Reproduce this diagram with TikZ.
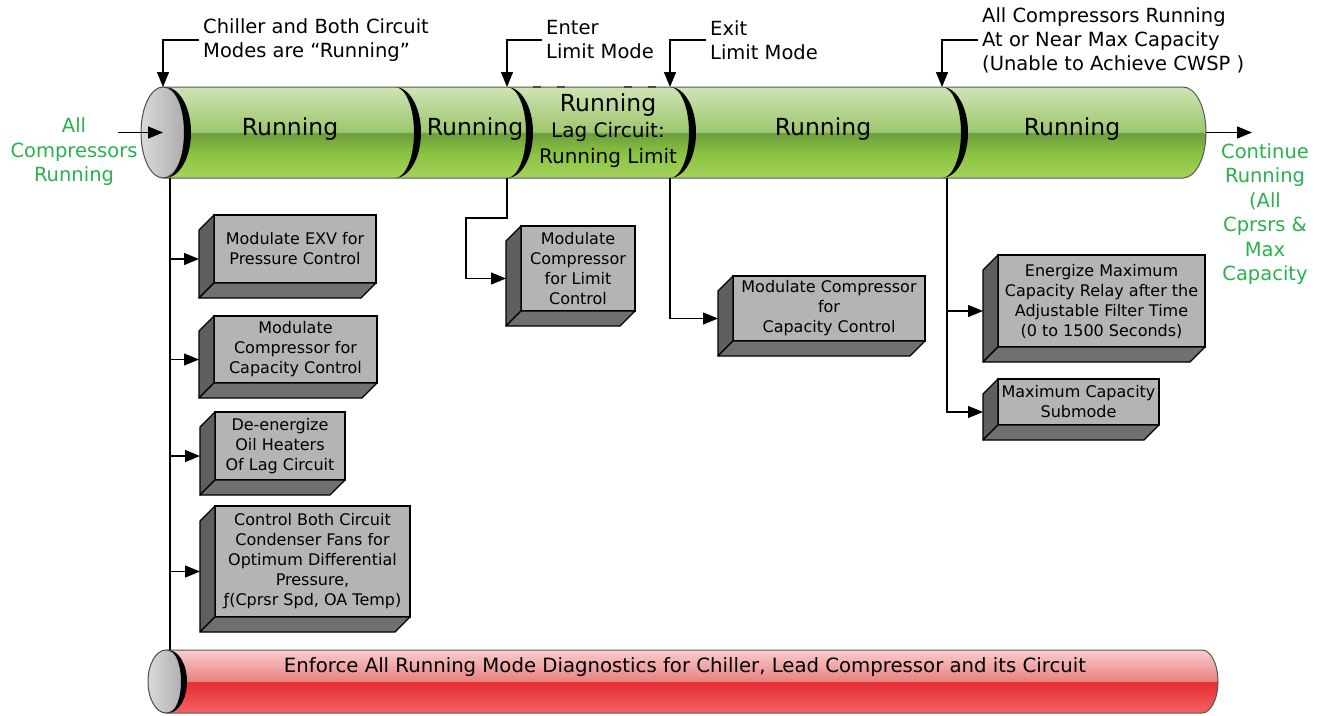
\documentclass[tikz,border=0pt]{standalone}
\usepackage{fontspec}
\setmainfont{DejaVu Sans}
\usetikzlibrary{arrows.meta,positioning,calc,shapes.geometric}

\definecolor{lblgreen}{RGB}{40,178,75}
\definecolor{gtop}{RGB}{206,228,180}
\definecolor{gupper}{RGB}{158,198,110}
\definecolor{glower}{RGB}{108,158,62}
\definecolor{gmid}{RGB}{140,196,64}
\definecolor{gbottom}{RGB}{166,210,95}
\definecolor{rtop}{RGB}{250,205,205}
\definecolor{rupper}{RGB}{232,130,130}
\definecolor{rlower}{RGB}{230,46,50}
\definecolor{rbottom}{RGB}{243,98,98}
\definecolor{boxfront}{RGB}{180,180,180}
\definecolor{boxside}{RGB}{95,95,95}
\definecolor{boxbottom}{RGB}{112,112,112}

\pgfdeclareverticalshading{greentube}{100bp}{color(0bp)=(gbottom); color(25bp)=(gbottom); color(38bp)=(gmid); color(49.6bp)=(glower); color(50.4bp)=(gupper); color(75bp)=(gtop); color(100bp)=(gtop)}
\pgfdeclareverticalshading{redtube}{100bp}{color(0bp)=(rbottom); color(25bp)=(rbottom); color(49.6bp)=(rlower); color(50.4bp)=(rupper); color(75bp)=(rtop); color(100bp)=(rtop)}

\tikzset{
  arr/.style={-{Triangle[length=15pt,width=12pt]}, line width=1.3pt},
  callout/.style={anchor=west, align=left, inner sep=4pt, font=\fontsize{19.5}{24}\selectfont},
  greenlbl/.style={text=lblgreen, align=center, font=\fontsize{19.5}{24.5}\selectfont},
  tubetxt/.style={align=center, font=\fontsize{23.5}{26}\selectfont},
  slabbox/.style={draw=black, line width=1.2pt, fill=boxfront, align=center, inner sep=2pt, outer sep=0pt, font=\fontsize{16}{20}\selectfont},
  tubeline/.style={draw=black!65, line width=1pt},
  disc/.style={ellipse, draw=black!70, line width=1pt, inner sep=0pt, left color=black!15, right color=black!32}
}

\newcommand{\slab}[1]{%
  \filldraw[fill=boxside, line width=1.2pt, line join=round] (#1.north west) -- ++(-15,15) -- ($(#1.south west)+(-15,15)$) -- (#1.south west) -- cycle;
  \filldraw[fill=boxbottom, line width=1.2pt, line join=round] (#1.south west) -- ++(-15,15) -- ($(#1.south east)+(-15,15)$) -- (#1.south east) -- cycle;
  \coordinate (#1-w) at ($(#1.west)+(-15,10)$);
}

\begin{document}
\begin{tikzpicture}[x=1pt, y=-1pt]
  \useasboundingbox (0,0) rectangle (1324,715);

  % running tube
  \shadedraw[shading=greentube, tubeline] (163,87) -- (1183,87) arc[start angle=90, end angle=-90, x radius=23pt, y radius=45.5pt] -- (163,178) -- cycle;
  \draw[black!70, line width=2.5pt, dash pattern=on 8pt off 16pt] (533,87) -- (568,87) (624,87) -- (658,87);
  \node[disc, minimum width=44pt, minimum height=91pt] (topdisc) at (163,132.5) {};
  \foreach \sx in {165,395,507,670,942}
    \fill (\sx,87) arc[start angle=90, end angle=-90, x radius=26pt, y radius=45.5pt] arc[start angle=-90, end angle=90, x radius=19pt, y radius=45.5pt];

  \node[tubetxt] (run1) at (290,129) {Running};
  \node[tubetxt] (run2) at (475,129) {Running};
  \node[tubetxt] (run3) at (608,131) {Running\\{\fontsize{20}{25}\selectfont Lag Circuit:}\\{\fontsize{20}{25}\selectfont Running Limit}};
  \node[tubetxt] (run4) at (823,129) {Running};
  \node[tubetxt] (run5) at (1072,129) {Running};

  % diagnostics tube
  \shadedraw[shading=redtube, tubeline] (166,650) -- (1202,650) arc[start angle=90, end angle=-90, x radius=16pt, y radius=31.5pt] -- (166,713) -- cycle;
  \node[disc, minimum width=36pt, minimum height=63pt] (botdisc) at (166,681.5) {};
  \fill (168,650) arc[start angle=90, end angle=-90, x radius=19pt, y radius=31.5pt] arc[start angle=-90, end angle=90, x radius=13pt, y radius=31.5pt];
  \node[font=\fontsize{19.7}{22}\selectfont] (diag) at (685,667) {Enforce All Running Mode Diagnostics for Chiller, Lead Compressor and its Circuit};

  % labels
  \node[greenlbl] (inlbl) at (74,152) {All\\Compressors\\Running};
  \node[greenlbl] (outlbl) at (1265,214) {Continue\\Running\\(All\\Cprsrs \&\\Max\\Capacity};
  \node[callout] (runlbl) at (199,40) {Chiller and Both Circuit\\Modes are “Running”};
  \node[callout] (enterlbl) at (542,40) {Enter\\Limit Mode};
  \node[callout] (exitlbl) at (706,40) {Exit\\Limit Mode};
  \node[callout] (maxlbl) at (978,40) {All Compressors Running\\At or Near Max Capacity\\(Unable to Achieve CWSP )};

  \coordinate (s1top) at (163,87);
  \coordinate (s3top) at (507,87);
  \coordinate (s4top) at (670,87);
  \coordinate (s5top) at (942,87);
  \draw[arr] (runlbl.west) -| (s1top);
  \draw[arr] (enterlbl.west) -| (s3top);
  \draw[arr] (exitlbl.west) -| (s4top);
  \draw[arr] (maxlbl.west) -| (s5top);

  \coordinate (instart) at (118,132.5);
  \coordinate (tubeend) at (1206,132.5);
  \coordinate (outend) at (1252,132.5);
  \draw[arr] (instart) -- (topdisc.center);
  \draw[arr] (tubeend) -- (outend);

  % action boxes
  \node[slabbox, minimum width=162pt, minimum height=68pt] (exv) at (295,249) {Modulate EXV for\\Pressure Control};
  \node[slabbox, minimum width=163pt, minimum height=67pt] (capa) at (295.5,349.5) {Modulate\\Compressor for\\Capacity Control};
  \node[slabbox, minimum width=130pt, minimum height=68pt] (oil) at (280,446) {De-energize\\Oil Heaters\\Of Lag Circuit};
  \node[slabbox, minimum width=195pt, minimum height=111pt] (fans) at (312.5,561.5) {Control Both Circuit\\Condenser Fans for\\Optimum Differential\\Pressure,\\ƒ(Cprsr Spd, OA Temp)};
  \node[slabbox, minimum width=114pt, minimum height=85pt] (limit) at (578,268.5) {Modulate\\Compressor\\for Limit\\Control};
  \node[slabbox, minimum width=192pt, minimum height=65pt] (capb) at (829,308.5) {Modulate Compressor\\for\\Capacity Control};
  \node[slabbox, minimum width=207pt, minimum height=92pt] (relay) at (1101.5,301) {Energize Maximum\\Capacity Relay after the\\Adjustable Filter Time\\(0 to 1500 Seconds)};
  \node[slabbox, minimum width=161pt, minimum height=46pt] (submode) at (1078.5,402) {Maximum Capacity\\Submode};
  \foreach \b in {exv,capa,oil,fans,limit,capb,relay,submode} {\slab{\b}}

  \coordinate (trunk) at (170,178);
  \coordinate (redtop) at (170,650);
  \draw[line width=1.3pt] (trunk) -- (redtop);
  \foreach \b in {exv,capa,oil,fans}
    \draw[arr] (trunk |- \b-w) -- (\b-w);

  \coordinate (enterbot) at (507,178);
  \coordinate (exitbot) at (670,178);
  \coordinate (maxbot) at (947,178);
  \draw[arr] (enterbot) -- ++(0,40) -| ($(limit-w)+(-40,0)$) -- (limit-w);
  \draw[arr] (exitbot) |- (capb-w);
  \draw[arr] (maxbot) |- (submode-w);
  \draw[arr] (maxbot |- relay-w) -- (relay-w);
\end{tikzpicture}
\end{document}
